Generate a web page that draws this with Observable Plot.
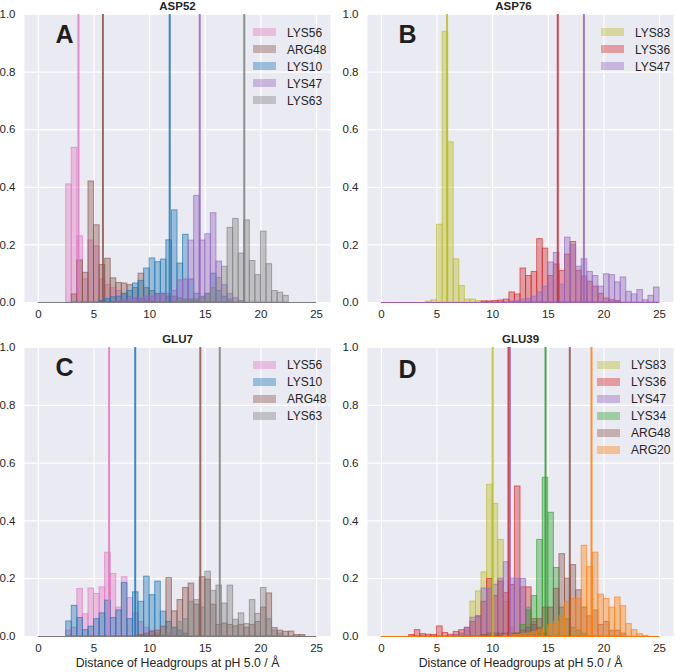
<!DOCTYPE html>
<html><head><meta charset="utf-8">
<script src="https://cdn.jsdelivr.net/npm/d3@7"></script>
<script src="https://cdn.jsdelivr.net/npm/@observablehq/plot@0.6"></script>
<style>
body{margin:0;background:#fff;}
#root{position:relative;width:675px;height:672px;overflow:hidden;font-family:"Liberation Sans",Arial,sans-serif;color:#262626;}
.leg{position:absolute;font-size:12px;line-height:12px;}
.leg .patch{position:absolute;width:23px;height:8px;}
.leg .lbl{position:absolute;white-space:nowrap;}
</style></head><body><div id="root"></div>
<script>
// ---- data (density per 0.5 Å bin, bin i = [i*0.5, i*0.5+0.5)) ----
const BIN = 0.5, N_BINS = 50;
const xTicks = [0, 5, 10, 15, 20, 25];
const yTicks = [0, 0.2, 0.4, 0.6, 0.8, 1.0];
const XLABEL = "Distance of Headgroups at pH 5.0 / Å";

const COLORS = {LYS56:"#e377c2", ARG48:"#8c564b", LYS10:"#1f77b4", LYS47:"#9467bd", LYS63:"#7f7f7f",
  LYS83:"#bcbd22", LYS36:"#d62728", LYS34:"#2ca02c", ARG20:"#ff7f0e"};

// Panel A: ASP52
const A_NAMES = ["LYS56","ARG48","LYS10","LYS47","LYS63"];
const A_LYS56 = [0,0,0,0,0,0.41,0.537,0.23,0.08,0.215, 0.195,0.08,0.06,0.05,0.04,0.03,0.02,0.015,0.01,0.008, 0.005];
const A_ARG48 = [0,0,0,0,0,0,0.028,0.146,0.103,0.42, 0.268,0.13,0.152,0.084,0.068,0.066,0.06,0.05,0.1,0.05, 0.04,0.03,0.03,0.02,0.02,0.015,0.01,0.01,0.005];
const A_LYS10 = [0,0,0,0,0,0,0,0,0,0, 0,0.005,0.012,0.018,0.02,0.03,0.04,0.066,0.075,0.118, 0.153,0.14,0.149,0.216,0.32,0.135,0.235,0.08,0.03,0.02, 0.03,0.1,0.04,0.02,0.01];
const A_LYS47 = [0,0,0,0,0,0,0,0,0,0, 0,0,0,0,0.005,0.008,0.01,0.012,0.015,0.02, 0.02,0.025,0.03,0.03,0.04,0.077,0.08,0.215,0.37,0.215, 0.237,0.31,0.142,0.06,0.03,0.015,0.005];
const A_LYS63 = [0,0,0,0,0,0,0,0,0,0, 0,0,0,0,0,0,0,0,0,0, 0,0,0,0,0,0.005,0.008,0.01,0.012,0.015, 0.03,0.05,0.085,0.124,0.259,0.29,0.17,0.285,0.144,0.095, 0.246,0.133,0.04,0.034,0.023];
const A_LINES = [3.6, 5.8, 11.8, 14.5, 18.5];

// Panel B: ASP76
const B_NAMES = ["LYS83","LYS36","LYS47"];
const B_LYS83 = [0,0,0,0,0,0,0,0,0.003,0.008, 0.27,0.94,0.556,0.15,0.057,0.01,0.01,0.005];
const B_LYS36 = [0,0,0,0,0,0,0,0,0,0, 0,0,0,0,0,0,0,0,0.004,0.004, 0.005,0.007,0.01,0.035,0.028,0.118,0.092,0.106,0.22,0.187, 0.092,0.132,0.109,0.166,0.21,0.11,0.09,0.072,0.055,0.03, 0.014,0.008,0.005];
const B_LYS47 = [0,0,0,0,0,0,0,0,0,0, 0,0,0,0,0,0,0,0,0,0, 0,0,0,0.003,0.005,0.01,0.012,0.02,0.035,0.055, 0.139,0.172,0.062,0.225,0.199,0.124,0.15,0.106,0.092,0.055, 0.098,0.095,0.07,0.087,0.037,0.028,0.043,0.008,0.023,0.052];
const B_LINES = [5.9, 15.85, 18.2];

// Panel C: GLU7
const C_NAMES = ["LYS56","LYS10","ARG48","LYS63"];
const C_LYS56 = [0,0,0,0,0,0.02,0.03,0.164,0.077,0.166, 0.147,0.17,0.29,0.216,0.1,0.205,0.133,0.08,0.05,0.03, 0.02,0.01];
const C_LYS10 = [0,0,0,0,0,0.052,0.106,0.064,0.022,0.034, 0.06,0.08,0.124,0.064,0.09,0.185,0.06,0.153,0.12,0.207, 0.143,0.19,0.086,0.05,0.03,0.02,0.01];
const C_ARG48 = [0,0,0,0,0,0,0,0,0,0, 0,0,0,0,0,0,0,0,0.005,0.01, 0.016,0.02,0.034,0.202,0.087,0.126,0.168,0.183,0.11,0.205, 0.197,0.11,0.04,0.045,0.04,0.035,0.04,0.03,0.04,0.05, 0.1,0.149,0.029,0.02,0.016,0.017,0.005,0.005];
const C_LYS63 = [0,0,0,0,0,0,0,0,0,0, 0,0,0,0,0,0,0,0,0,0, 0,0,0.005,0.01,0.03,0.05,0.06,0.12,0.126,0.1, 0.224,0.158,0.176,0.114,0.176,0.058,0.08,0.043,0.126,0.078, 0.168,0.06,0.02,0.01];
const C_LINES = [6.35, 8.7, 14.55, 16.3];

// Panel D: GLU39
const D_NAMES = ["LYS83","LYS36","LYS47","LYS34","ARG48","ARG20"];
const D_LYS83 = [0,0,0,0,0,0,0,0,0,0, 0,0,0,0,0.01,0.02,0.121,0.156,0.222,0.525, 0.459,0.334,0.12,0.03,0.01];
const D_LYS36 = [0,0,0,0,0,0.005,0.022,0.008,0.006,0.005, 0.035,0.012,0.006,0.016,0.022,0.03,0.05,0.07,0.12,0.199, 0.14,0.19,0.15,0.178,0.519,0.17,0.17,0.06,0.03,0.01];
const D_LYS47 = [0,0,0,0,0,0,0,0,0,0, 0,0,0,0.005,0.01,0.03,0.065,0.068,0.166,0.164, 0.179,0.2,0.257,0.2,0.2,0.199,0.1,0.05,0.02,0.01];
const D_LYS34 = [0,0,0,0,0,0,0,0,0,0, 0,0,0,0,0,0,0,0,0,0, 0,0,0,0,0.01,0.04,0.09,0.14,0.334,0.549, 0.428,0.237,0.1,0.06,0.03,0.02,0.01];
const D_ARG48 = [0,0,0,0,0,0,0,0,0,0, 0,0,0,0,0,0,0,0,0.005,0.01, 0.01,0.01,0.01,0.01,0.01,0.02,0.03,0.04,0.06,0.1, 0.1,0.165,0.285,0.2,0.247,0.16,0.1,0.07,0.09,0.04, 0.05,0.02,0.02,0.01];
const D_ARG20 = [0,0,0,0,0,0,0,0,0,0, 0,0,0,0,0,0,0,0,0,0, 0,0,0.003,0.003,0.005,0.008,0.01,0.015,0.02,0.03, 0.04,0.05,0.07,0.12,0.13,0.13,0.314,0.24,0.29,0.145, 0.13,0.1,0.135,0.105,0.043,0.022,0.008,0.002];
const D_LINES = [10.0, 11.42, 11.55, 14.75, 16.93, 18.88];

// ---- layout ----
const PANELS = [
  {title:"ASP52", letter:"A", names:A_NAMES, values:[A_LYS56,A_ARG48,A_LYS10,A_LYS47,A_LYS63], lines:A_LINES,
   left:0, top:0, w:335, h:330, ml:24, mr:5, mt:14, mb:28, letterDy:11, titleDx:0, xlabel:false, legX:253, legY:32.3},
  {title:"ASP76", letter:"B", names:B_NAMES, values:[B_LYS83,B_LYS36,B_LYS47], lines:B_LINES,
   left:343, top:0, w:332, h:330, ml:24, mr:2, mt:14, mb:28, letterDy:11, titleDx:-7, xlabel:false, legX:601, legY:32.3},
  {title:"GLU7", letter:"C", names:C_NAMES, values:[C_LYS56,C_LYS10,C_ARG48,C_LYS63], lines:C_LINES,
   left:0, top:333, w:335, h:339, ml:24, mr:5, mt:14, mb:36, letterDy:11, titleDx:0, xlabel:true, legX:253, legY:365},
  {title:"GLU39", letter:"D", names:D_NAMES, values:[D_LYS83,D_LYS36,D_LYS47,D_LYS34,D_ARG48,D_ARG20], lines:D_LINES,
   left:343, top:333, w:332, h:339, ml:24, mr:2, mt:14, mb:36, letterDy:13, titleDx:0, xlabel:true, legX:597, legY:365}
];

function hist(values){
  return values.map((v,i)=>({x1:i*BIN, x2:(i+1)*BIN, y:v})).filter(d=>d.y>0);
}

const root = document.getElementById("root");

PANELS.forEach(p=>{
  const marks = [
    Plot.frame({fill:"#EAEAF2", stroke:"none"}),
    Plot.gridX(xTicks, {stroke:"#ffffff", strokeOpacity:1, strokeWidth:1.2}),
    Plot.gridY(yTicks, {stroke:"#ffffff", strokeOpacity:1, strokeWidth:1.2}),
    Plot.axisX(xTicks, {tickSize:0, tickPadding:7, label:null, fontSize:11.5}),
    Plot.axisY(yTicks, {tickSize:0, tickPadding:9, label:null, fontSize:11.5, tickFormat:d3.format(".1f")})
  ];
  p.names.forEach((n,k)=>{
    const c = COLORS[n];
    marks.push(Plot.rectY(hist(p.values[k]), {x1:"x1", x2:"x2", y:"y", fill:c, fillOpacity:0.4, stroke:c, strokeOpacity:0.65, strokeWidth:1}));
    marks.push(Plot.ruleY([0], {x1:0, x2:N_BINS*BIN, stroke:c, strokeOpacity:0.85, strokeWidth:1}));
  });
  marks.push(Plot.ruleX(p.lines.map((x,k)=>({x, c:COLORS[p.names[k]]})), {x:"x", stroke:"c", strokeWidth:2, strokeOpacity:0.85}));
  marks.push(Plot.text([p.letter], {text:d=>d, frameAnchor:"top-left", dx:31, dy:p.letterDy, lineAnchor:"top", textAnchor:"start", fontSize:25, fontWeight:"bold", fill:"#1e1e1e"}));
  marks.push(Plot.text([p.title], {text:d=>d, frameAnchor:"top", dx:p.titleDx, dy:-8, lineAnchor:"middle", fontSize:11.5, fontWeight:"bold"}));
  if (p.xlabel) marks.push(Plot.text([XLABEL], {text:d=>d, frameAnchor:"bottom", dy:27, lineAnchor:"middle", fontSize:12.3}));

  const svg = Plot.plot({
    width:p.w, height:p.h,
    marginLeft:p.ml, marginRight:p.mr, marginTop:p.mt, marginBottom:p.mb,
    x:{domain:[-1.25, 26.25]},
    y:{domain:[0, 1]},
    color:{type:"identity"},
    style:{fontFamily:'"Liberation Sans", Arial, sans-serif', fontSize:"11.5px", color:"#262626", background:"transparent", overflow:"visible"},
    marks
  });
  svg.style.position = "absolute";
  svg.style.left = p.left + "px";
  svg.style.top = p.top + "px";
  root.appendChild(svg);

  // legend
  const leg = document.createElement("div");
  leg.className = "leg";
  leg.style.left = p.legX + "px";
  leg.style.top = "0px";
  p.names.forEach((n,k)=>{
    const cy = p.legY + 17*k;
    const patch = document.createElement("div");
    patch.className = "patch";
    patch.style.left = "0px";
    patch.style.top = (cy - 4) + "px";
    patch.style.background = COLORS[n];
    patch.style.opacity = 0.4;
    leg.appendChild(patch);
    const lbl = document.createElement("div");
    lbl.className = "lbl";
    lbl.style.left = "34px";
    lbl.style.top = (cy - 5.8) + "px";
    lbl.textContent = n;
    leg.appendChild(lbl);
  });
  root.appendChild(leg);
});
</script></body></html>
